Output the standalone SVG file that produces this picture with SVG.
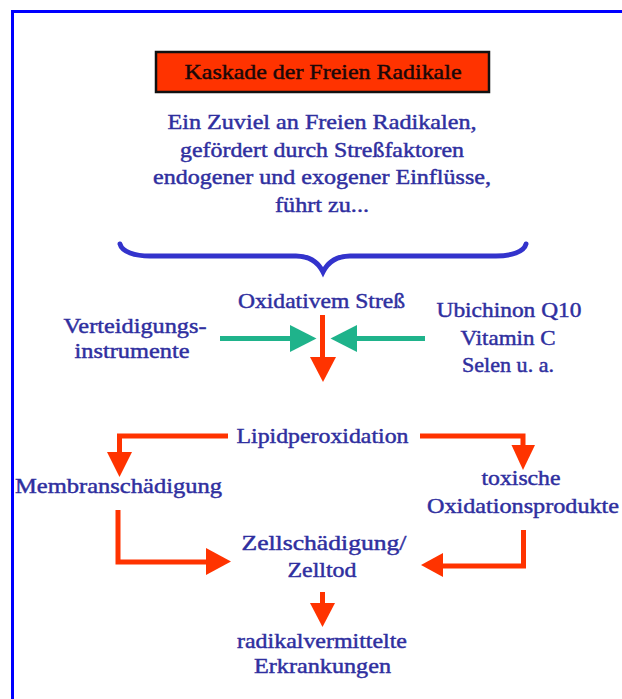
<svg xmlns="http://www.w3.org/2000/svg" width="622" height="699" viewBox="0 0 622 699">
<style>
text{font-family:"Liberation Serif","Times New Roman",serif;font-size:21px;text-anchor:middle;fill:#2f2f9f;stroke:#2f2f9f;stroke-width:0.45}
.title{fill:#1a0808;stroke:#1a0808}
.red{stroke:#ff3300;stroke-width:5;fill:none}
.redh{fill:#ff3300}
.grn{stroke:#1fb38b;stroke-width:5;fill:none}
.grnh{fill:#1fb38b}
</style>
<rect width="622" height="699" fill="#ffffff"/>
<path d="M12.5,699 V11.5 H622" fill="none" stroke="#0000ff" stroke-width="3"/>
<g id="title">
<rect x="156" y="52" width="333" height="40" fill="#ff3300" stroke="#111" stroke-width="2.5"/>
<text class="title" x="323" y="79" textLength="277" lengthAdjust="spacingAndGlyphs">Kaskade der Freien Radikale</text>
</g>
<g id="intro">
<text x="322" y="129" textLength="309" lengthAdjust="spacingAndGlyphs">Ein Zuviel an Freien Radikalen,</text>
<text x="322" y="157" textLength="284" lengthAdjust="spacingAndGlyphs">gefördert durch Streßfaktoren</text>
<text x="322" y="184" textLength="338" lengthAdjust="spacingAndGlyphs">endogener und exogener Einflüsse,</text>
<text x="322" y="212" textLength="94" lengthAdjust="spacingAndGlyphs">führt zu...</text>
</g>
<g id="brace">
<path d="M120,244 C122,252 135,256 150,256 L296,256 C310,256 318,262 323,272 C328,262 336,256 350,256 L496,256 C511,256 524,252 526,244" fill="none" stroke="#3333cc" stroke-width="5" stroke-linecap="round"/>
</g>
<g id="oxidativ"><text x="321.5" y="308" textLength="167" lengthAdjust="spacingAndGlyphs">Oxidativem Streß</text></g>
<g id="verteidigung">
<text x="135" y="333" textLength="143" lengthAdjust="spacingAndGlyphs">Verteidigungs-</text>
<text x="132" y="358" textLength="115" lengthAdjust="spacingAndGlyphs">instrumente</text>
</g>
<g id="antioxidantien">
<text x="509" y="317" textLength="145" lengthAdjust="spacingAndGlyphs">Ubichinon Q10</text>
<text x="508" y="345" textLength="95" lengthAdjust="spacingAndGlyphs">Vitamin C</text>
<text x="508" y="372" textLength="92" lengthAdjust="spacingAndGlyphs">Selen u. a.</text>
</g>
<g id="lipid"><text x="322.5" y="443" textLength="172" lengthAdjust="spacingAndGlyphs">Lipidperoxidation</text></g>
<g id="membran"><text x="118.5" y="493" textLength="207" lengthAdjust="spacingAndGlyphs">Membranschädigung</text></g>
<g id="toxisch">
<text x="521" y="485" textLength="79" lengthAdjust="spacingAndGlyphs">toxische</text>
<text x="523" y="513" textLength="192" lengthAdjust="spacingAndGlyphs">Oxidationsprodukte</text>
</g>
<g id="zelltod">
<text x="324" y="550" textLength="165" lengthAdjust="spacingAndGlyphs">Zellschädigung/</text>
<text x="322" y="577" textLength="69" lengthAdjust="spacingAndGlyphs">Zelltod</text>
</g>
<g id="erkrankungen">
<text x="322" y="648" textLength="170" lengthAdjust="spacingAndGlyphs">radikalvermittelte</text>
<text x="322.5" y="673" textLength="137" lengthAdjust="spacingAndGlyphs">Erkrankungen</text>
</g>
<g id="connectors">
<path class="red" d="M322.5,315 V358"/>
<polygon class="redh" points="310,357 336,357 323,382"/>
<path class="grn" d="M220,338.5 H291"/>
<polygon class="grnh" points="290,325 290,352 316.5,338.5"/>
<path class="grn" d="M425,338.5 H356"/>
<polygon class="grnh" points="357,325 357,352 330.5,338.5"/>
<path class="red" d="M228,436 H119.5 V453"/>
<polygon class="redh" points="107,452 132,452 119.5,477"/>
<path class="red" d="M420,436 H523 V446"/>
<polygon class="redh" points="511.5,445 535,445 523,470"/>
<path class="red" d="M118,510 V562 H207"/>
<polygon class="redh" points="206,548 206,575 231,561.5"/>
<path class="red" d="M523.5,530 V566 H442"/>
<polygon class="redh" points="443,553 443,577 421,565"/>
<path class="red" d="M322.5,592 V604"/>
<polygon class="redh" points="310,603 335,603 322.5,627"/>
</g>
</svg>
